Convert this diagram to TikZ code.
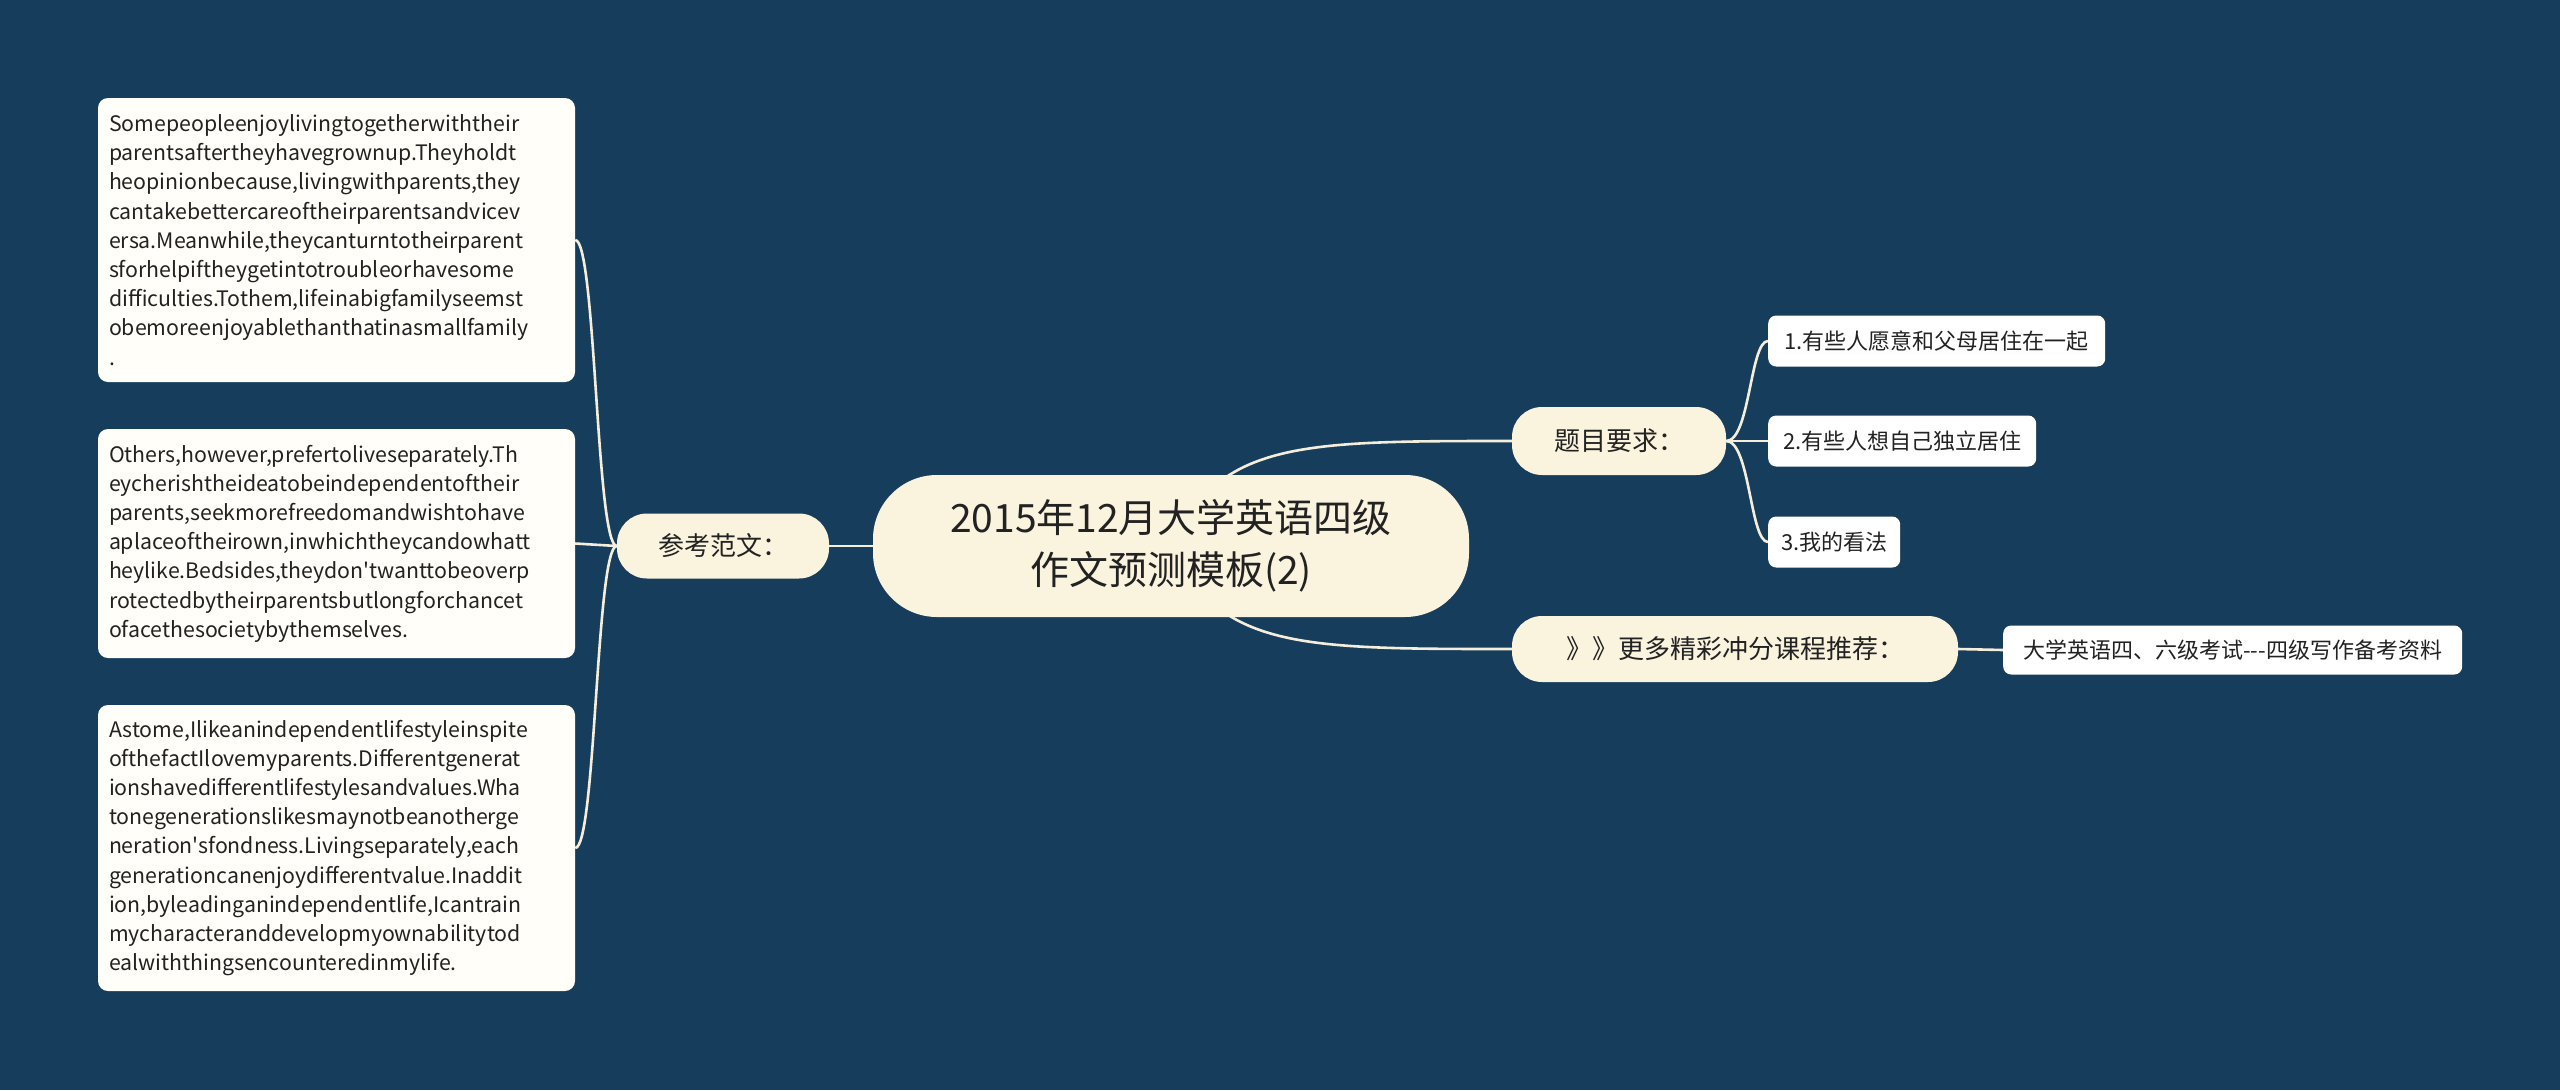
\documentclass[tikz,border=0pt]{standalone}
\usepackage{fontspec}
\setmainfont{Noto Sans CJK SC}[Ligatures=TeXOff]
\definecolor{bg}{HTML}{173D5C}
\definecolor{cream}{HTML}{FAF3DE}
\definecolor{paper}{HTML}{FFFEF8}
\definecolor{ink}{HTML}{222222}
\definecolor{wire}{HTML}{F4EEDB}
\tikzset{
  conn/.style={draw=wire, line width=2.6pt},
  rootbox/.style={fill=cream, rounded corners=64pt, minimum width=596pt, minimum height=142pt, align=center, text=ink, font=\fontsize{39}{52}\selectfont, inner sep=0pt},
  lvlone/.style={fill=cream, rounded corners=30pt, minimum height=66pt, align=center, text=ink, font=\fontsize{26}{32}\selectfont, inner sep=0pt},
  leafbox/.style={fill=white, rounded corners=8pt, minimum height=51pt, align=center, text=ink, font=\fontsize{22}{28}\selectfont, inner sep=0pt, anchor=west},
  parabox/.style={fill=paper, rounded corners=10pt, minimum width=477pt, text width=455pt, inner xsep=11pt, inner ysep=0pt, align=left, text=ink, font=\fontsize{21.3}{29.2}\selectfont},
}
\begin{document}
\begin{tikzpicture}[x=1pt,y=-1pt]
\path[fill=bg] (0,0) rectangle (2560,1090);
\useasboundingbox (0,0) rectangle (2560,1090);

\node[parabox, minimum height=284pt] (b1) at (336.5,240) {Somepeopleenjoylivingtogetherwiththeir\\parentsaftertheyhavegrownup.Theyholdt\\heopinionbecause,livingwithparents,they\\cantakebettercareoftheirparentsandvicev\\ersa.Meanwhile,theycanturntotheirparent\\sforhelpiftheygetintotroubleorhavesome\\difficulties.Tothem,lifeinabigfamilyseemst\\obemoreenjoyablethanthatinasmallfamily\\.};
\node[parabox, minimum height=229pt] (b2) at (336.5,543.5) {Others,however,prefertoliveseparately.Th\\eycherishtheideatobeindependentoftheir\\parents,seekmorefreedomandwishtohave\\aplaceoftheirown,inwhichtheycandowhatt\\heylike.Bedsides,theydon't{}wanttobeoverp\\rotectedbytheirparentsbutlongforchancet\\ofacethesocietybythemselves.};
\node[parabox, minimum height=286pt] (b3) at (336.5,848) {Astome,Ilikeanindependentlifestyleinspite\\ofthefactIlovemyparents.Differentgenerat\\ionshavedifferentlifestylesandvalues.Wha\\tonegenerationslikesmaynotbeanotherge\\neration's{}fondness.Livingseparately,each\\generationcanenjoydifferentvalue.Inaddit\\ion,byleadinganindependentlife,Icantrain\\mycharacteranddevelopmyownabilitytod\\ealwiththingsencounteredinmylife.};

\node[lvlone, minimum width=212pt, minimum height=65pt] (ref) at (723,546) {参考范文：};
\node[lvlone, minimum width=214pt, minimum height=68pt] (req) at (1619,441) {题目要求：};
\node[lvlone, minimum width=446pt, minimum height=66pt] (more) at (1735,649) {》》更多精彩冲分课程推荐：};

\node[leafbox, minimum width=337pt] (c1) at (1768,341) {1.有些人愿意和父母居住在一起};
\node[leafbox, minimum width=268pt] (c2) at (1768,441) {2.有些人想自己独立居住};
\node[leafbox, minimum width=132pt] (c3) at (1768,542) {3.我的看法};
\node[leafbox, minimum width=459pt, minimum height=49pt] (rec) at (2003,650) {大学英语四、六级考试-{}-{}-四级写作备考资料};

\coordinate (rc) at (1171,546);

\draw[conn] (ref.west) -- (b2.east);
\draw[conn] (ref.west) .. controls (596,546) and (596,240) .. (b1.east);
\draw[conn] (ref.west) .. controls (596,546) and (596,848) .. (b3.east);
\draw[conn] (ref.east) -- (rc);
\draw[conn] (rc) .. controls (1220,441) and (1300,441) .. (req.west);
\draw[conn] (rc) .. controls (1220,649) and (1300,649) .. (more.west);
\draw[conn] (req.east) -- (c2.west);
\draw[conn] (req.east) .. controls (1750,441) and (1750,341) .. (c1.west);
\draw[conn] (req.east) .. controls (1750,441) and (1750,542) .. (c3.west);
\draw[conn] (more.east) -- (rec.west);

\node[rootbox] (root) at (rc) {2015年12月大学英语四级\\作文预测模板(2)};
\end{tikzpicture}
\end{document}
